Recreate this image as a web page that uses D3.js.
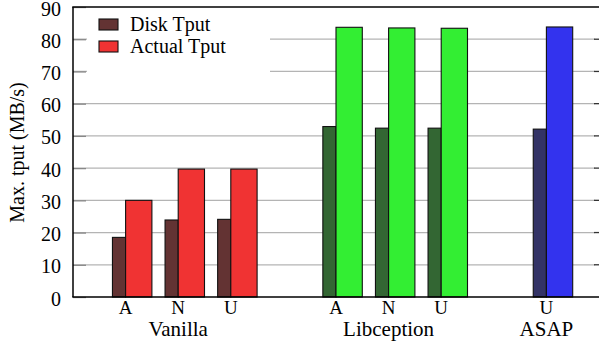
<!DOCTYPE html>
<html><head><meta charset="utf-8">
<script src="https://cdn.jsdelivr.net/npm/d3@7"></script>
<style>body{margin:0;background:#fff}svg{display:block}text{font-family:"Liberation Serif","Times New Roman",serif;fill:#000}</style>
</head><body>
<script>
const groups = ["Vanilla", "Libception", "ASAP"];
const categories = ["A", "N", "U", "A", "N", "U", "U"];
const categoryGroup = [0, 0, 0, 1, 1, 1, 2];
const slots = [0, 1, 2, 4, 5, 6, 8];
const groupSlot = [1, 5, 8];
const diskTput = [18.5, 23.9, 24.1, 52.9, 52.4, 52.4, 52.1];
const actualTput = [30.0, 39.7, 39.7, 83.7, 83.5, 83.4, 83.8];
const yTicks = [0, 10, 20, 30, 40, 50, 60, 70, 80, 90];
const seriesNames = ["Disk Tput", "Actual Tput"];
const diskColors = ["#633333", "#336633", "#333366"];
const actualColors = ["#f03333", "#33ee33", "#3333ee"];

const W = 599, H = 343;
const svg = d3.select("body").append("svg").attr("width", W).attr("height", H);
const x = d3.scaleLinear().domain([-1, 9]).range([73, 599]);
const y = d3.scaleLinear().domain([0, 90]).range([297, 7]);
const u = x(1) - x(0);

// gridlines
svg.append("g").selectAll("line").data(yTicks.filter(t => t > 0 && t < 90)).join("line")
  .attr("x1", 73).attr("x2", 595).attr("y1", d => y(d)).attr("y2", d => y(d))
  .attr("stroke", "#b4b4b4").attr("stroke-width", 1.3);

// legend background
svg.append("rect").attr("x", 87).attr("y", 9).attr("width", 183).attr("height", 66).attr("fill", "#fff");

// bars
const data = categories.map((c, i) => ({c, i, s: slots[i], g: categoryGroup[i], d: diskTput[i], a: actualTput[i]}));
const bars = svg.append("g");
bars.selectAll("rect.disk").data(data).join("rect").attr("class", "disk")
  .attr("x", d => x(d.s - 0.25)).attr("width", u * 0.25)
  .attr("y", d => y(d.d)).attr("height", d => y(0) - y(d.d))
  .attr("fill", d => diskColors[d.g]).attr("stroke", "#111").attr("stroke-width", 1.1);
bars.selectAll("rect.act").data(data).join("rect").attr("class", "act")
  .attr("x", d => x(d.s)).attr("width", u * 0.5)
  .attr("y", d => y(d.a)).attr("height", d => y(0) - y(d.a))
  .attr("fill", d => actualColors[d.g]).attr("stroke", "#111").attr("stroke-width", 1.1);

// axes
const yAxis = d3.axisLeft(y).tickValues(yTicks).tickSize(-13).tickPadding(12);
const ya = svg.append("g").attr("transform", "translate(73,0)").call(yAxis);
ya.select(".domain").remove();
ya.selectAll(".tick line").attr("stroke", "#888").attr("stroke-width", 1.3);
ya.selectAll(".tick text").attr("font-size", 20).attr("dy", "0.4em")
  .attr("font-family", "Liberation Serif").attr("fill", "#000");
// right ticks
svg.append("g").selectAll("line").data(yTicks.filter(t => t > 0 && t < 90)).join("line")
  .attr("x1", 594).attr("x2", 599).attr("y1", d => y(d)).attr("y2", d => y(d))
  .attr("stroke", "#333").attr("stroke-width", 1.3);

svg.append("line").attr("x1", 73).attr("x2", 73).attr("y1", 7).attr("y2", 297).attr("stroke", "#000").attr("stroke-width", 1.5);
svg.append("line").attr("x1", 72.25).attr("x2", 599).attr("y1", 297).attr("y2", 297).attr("stroke", "#000").attr("stroke-width", 1.5);
svg.append("line").attr("x1", 72.25).attr("x2", 599).attr("y1", 7).attr("y2", 7).attr("stroke", "#000").attr("stroke-width", 1.5);

// category labels
svg.append("g").selectAll("text").data(data).join("text")
  .attr("x", d => x(d.s)).attr("y", 313.5).attr("text-anchor", "middle")
  .attr("font-size", 19).text(d => d.c);
svg.append("g").selectAll("text").data(groups).join("text")
  .attr("x", (d, i) => x(groupSlot[i])).attr("y", 336).attr("text-anchor", "middle")
  .attr("font-size", 21).text(d => d);

// y title
svg.append("text").attr("transform", "translate(24,152.5) rotate(-90)").attr("text-anchor", "middle")
  .attr("font-size", 20).text("Max. tput (MB/s)");

// legend
const leg = svg.append("g");
seriesNames.forEach((n, i) => {
  leg.append("rect").attr("x", 99).attr("y", 19 + i * 22).attr("width", 19).attr("height", 11)
    .attr("fill", i === 0 ? diskColors[0] : actualColors[0]).attr("stroke", "#111").attr("stroke-width", 1.1);
  leg.append("text").attr("x", 130).attr("y", 31 + i * 22).attr("font-size", 20).text(n);
});
</script>
</body></html>
